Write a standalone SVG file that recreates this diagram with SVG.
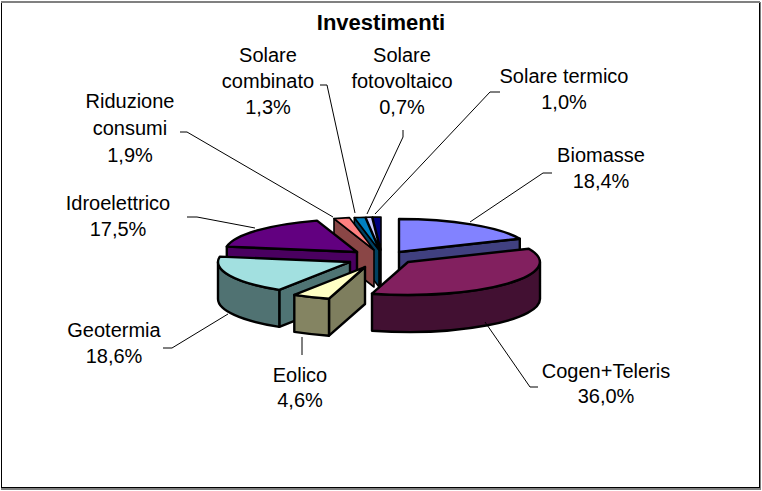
<svg xmlns="http://www.w3.org/2000/svg" width="762" height="491" viewBox="0 0 762 491">
<style>
.t{font-family:"Liberation Sans",Arial,sans-serif;font-size:20px;fill:#000;text-anchor:middle}
.ti{font-family:"Liberation Sans",Arial,sans-serif;font-size:22px;font-weight:bold;fill:#000;text-anchor:middle}
.s{stroke:#000;stroke-width:2.4;stroke-linejoin:round}
.ss{stroke:#000;stroke-width:1.6;stroke-linejoin:round}
.ld{fill:none;stroke:#000;stroke-width:1}
</style>
<rect x="0" y="0" width="762" height="491" fill="#fff"/>
<rect x="1.5" y="2.5" width="758" height="485" fill="#fff" stroke="#000" stroke-width="1"/>
<line x1="1" y1="2" x2="760" y2="2" stroke="#808080" stroke-width="2"/>
<line x1="1" y1="489" x2="761" y2="489" stroke="#808080" stroke-width="2"/>
<line x1="760.5" y1="2" x2="760.5" y2="489" stroke="#808080" stroke-width="1"/>

<text class="ti" x="381" y="30">Investimenti</text>

<g id="solare-termico">
<path class="ss" fill="#000040" d="M381,250 L372.7,217.1 L372.7,254.1 L381,287 Z"/>
<path class="ss" fill="#000080" d="M381,250 L372.7,217.1 A132,33 0 0 1 381,217 Z"/>
</g>
<g id="solare-fotovoltaico">
<path class="ss" fill="#505070" d="M380,250 L365.9,217.2 L365.9,254.2 L380,287 Z"/>
<path class="ss" fill="#C8C8FF" d="M380,250 L365.9,217.2 A132,33 0 0 1 371.7,217.1 Z"/>
</g>
<g id="solare-combinato">
<path class="ss" fill="#004060" d="M379,250 L354.3,217.6 L354.3,254.6 L379,287 Z"/>
<path class="ss" fill="#0080C0" d="M379,250 L354.3,217.6 A132,33 0 0 1 364.9,217.2 Z"/>
</g>
<g id="riduzione-consumi">
<path class="ss" fill="#8A4646" d="M374,250 L334,218.6 L334,255.6 L374,287 Z"/>
<path class="ss" fill="#FF8080" d="M374,250 L334,218.6 A132,33 0 0 1 349.3,217.6 Z"/>
</g>
<g id="biomasse">
<path class="s" fill="#404080" d="M399,252 L519.8,238.7 L519.8,275.7 L399,289 Z"/>
<path class="s" fill="#8282FF" d="M399,252 L399,219 A132,33 0 0 1 519.8,238.7 Z"/>
</g>
<g id="idroelettrico">
<path class="s" fill="#4A0060" d="M357,252 L226.8,246.6 L226.8,283.6 L357,289 Z"/>
<path class="s" fill="#620080" d="M357,252 L226.8,246.6 A132,33 0 0 1 317,220.6 Z"/>
</g>
<g id="cogen-teleris">
<path class="s" fill="#421032" d="M540,262 A132,33 0 0 1 372,293.7 L372,330.7 A132,33 0 0 0 540,299 Z"/>
<path class="s" fill="#82205F" d="M408,262 L528.8,248.7 A132,33 0 0 1 372,293.7 Z"/>
</g>
<g id="geotermia">
<path class="s" fill="#4F7474" d="M350,262 L279.3,289.9 L279.3,326.9 L350,299 Z"/>
<path class="s" fill="#507272" d="M279.3,289.9 A132,33 0 0 1 218,262 L218,299 A132,33 0 0 0 279.3,326.9 Z"/>
<path class="s" fill="#A2E0E0" d="M350,262 L279.3,289.9 A132,33 0 0 1 219.8,256.6 Z"/>
</g>
<g id="eolico">
<path class="s" fill="#7E7E5E" d="M365,267 L329,298.7 L329,335.7 L365,304 Z"/>
<path class="s" fill="#848462" d="M329,298.7 A132,33 0 0 1 294.3,294.9 L294.3,331.9 A132,33 0 0 0 329,335.7 Z"/>
<path class="s" fill="#FFFFC4" d="M365,267 L329,298.7 A132,33 0 0 1 294.3,294.9 Z"/>
</g>

<g id="connectors">
<path class="ld" d="M320,85 H327 L355,213"/>
<path class="ld" d="M403,130 V137 L367,214"/>
<path class="ld" d="M500,92 H490 L375,214"/>
<path class="ld" d="M180,132 H187 L333,217"/>
<path class="ld" d="M187,217 H197 L255,228"/>
<path class="ld" d="M552,173 H543 L470,222"/>
<path class="ld" d="M163,348 H172 L228,314"/>
<path class="ld" d="M302,337 V355"/>
<path class="ld" d="M485,322 L530,387 H538"/>
</g>

<g id="labels">
<text class="t" x="268" y="62">Solare</text>
<text class="t" x="268" y="88">combinato</text>
<text class="t" x="268" y="114">1,3%</text>
<text class="t" x="402" y="62">Solare</text>
<text class="t" x="402" y="88">fotovoltaico</text>
<text class="t" x="402" y="114">0,7%</text>
<text class="t" x="564" y="83">Solare termico</text>
<text class="t" x="564" y="109">1,0%</text>
<text class="t" x="130" y="108">Riduzione</text>
<text class="t" x="130" y="135">consumi</text>
<text class="t" x="130" y="162">1,9%</text>
<text class="t" x="118" y="210">Idroelettrico</text>
<text class="t" x="118" y="236">17,5%</text>
<text class="t" x="601" y="162">Biomasse</text>
<text class="t" x="601" y="188">18,4%</text>
<text class="t" x="114" y="337">Geotermia</text>
<text class="t" x="114" y="363">18,6%</text>
<text class="t" x="300" y="382">Eolico</text>
<text class="t" x="300" y="407">4,6%</text>
<text class="t" x="606" y="378">Cogen+Teleris</text>
<text class="t" x="606" y="403">36,0%</text>
</g>
</svg>
